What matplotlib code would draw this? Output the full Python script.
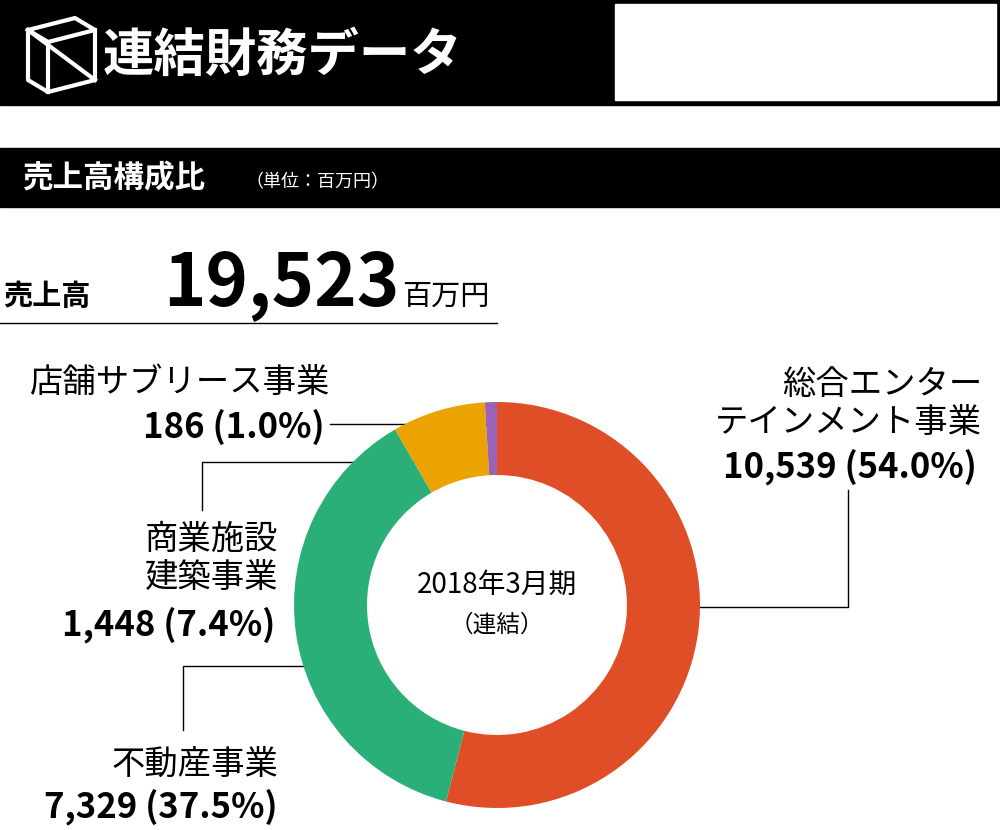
import matplotlib
matplotlib.use("Agg")
import matplotlib.pyplot as plt
from matplotlib.patches import Rectangle

plt.rcParams["font.family"] = "Noto Sans CJK JP"

segments = ["総合エンターテインメント事業", "不動産事業", "商業施設建築事業", "店舗サブリース事業"]
values = [10539, 7329, 1448, 186]
shares = [54.0, 37.5, 7.4, 1.0]
colors = ["#E04E27", "#2BAF78", "#EAA300", "#9B63B8"]
total = "19,523"

fig = plt.figure(figsize=(10, 8.3), dpi=100)
bg = fig.add_axes([0, 0, 1, 1])
bg.set_xlim(0, 1000); bg.set_ylim(830, 0); bg.axis("off")

# header
bg.add_patch(Rectangle((0, 0), 1000, 105, color="black"))
bg.add_patch(Rectangle((615, 4), 381, 96, color="white"))
bg.plot([28, 75, 95, 48, 28], [30, 18, 30, 42, 30], color="white", lw=3)
bg.plot([28, 28, 48, 95, 95], [30, 80, 92, 80, 30], color="white", lw=3)
bg.plot([48, 48], [42, 92], color="white", lw=3)
bg.plot([28, 95], [30, 80], color="white", lw=3)
bg.text(103, 55, "連結財務データ", color="white", fontsize=37, fontweight="bold", va="center")

bg.add_patch(Rectangle((0, 148), 1000, 59, color="black"))
bg.text(22, 178, "売上高構成比", color="white", fontsize=22, fontweight="bold", va="center")
bg.text(245, 182, "（単位：百万円）", color="white", fontsize=13, va="center")

bg.text(3, 296, "売上高", fontsize=21, fontweight="bold", va="center")
bg.text(163, 284, total, fontsize=52, fontweight="bold", va="center")
bg.text(402, 297, "百万円", fontsize=21, va="center")
bg.plot([0, 497], [323, 323], color="black", lw=1)

# donut
ax = fig.add_axes([294 / 1000, (830 - 808) / 830, 406 / 1000, 406 / 830])
ax.pie(values, colors=colors, startangle=90, counterclock=False,
       wedgeprops=dict(width=73 / 203, linewidth=0))
ax.set_xlim(-1, 1); ax.set_ylim(-1, 1)
ax.set_aspect("equal")
ax.text(0, 0.1, "2018年3月期", ha="center", va="center", fontsize=20)
ax.text(0, -0.1, "（連結）", ha="center", va="center", fontsize=17)

def leader(pts):
    xs, ys = zip(*pts)
    bg.plot(xs, ys, color="black", lw=1)
    bg.plot(xs[0], ys[0], "o", color="black", ms=4)

leader([(677, 607), (848, 607), (848, 490)])
leader([(337, 666), (183, 666), (183, 730)])
leader([(452, 462), (202, 462), (202, 510)])
leader([(492, 424), (330, 424)])

bg.text(982, 440, "総合エンター\nテインメント事業", fontsize=24, ha="right", va="bottom", linespacing=1.1)
bg.text(977, 485, f"{values[0]:,} ({shares[0]:.1f}%)", fontsize=25, fontweight="bold", ha="right", va="bottom")
bg.text(278, 595, "商業施設\n建築事業", fontsize=24, ha="right", va="bottom", linespacing=1.1)
bg.text(275, 643, f"{values[2]:,} ({shares[2]:.1f}%)", fontsize=25, fontweight="bold", ha="right", va="bottom")
bg.text(278, 782, "不動産事業", fontsize=24, ha="right", va="bottom")
bg.text(278, 825, f"{values[1]:,} ({shares[1]:.1f}%)", fontsize=25, fontweight="bold", ha="right", va="bottom")
bg.text(330, 400, "店舗サブリース事業", fontsize=24, ha="right", va="bottom")
bg.text(325, 445, f"{values[3]:,} ({shares[3]:.1f}%)", fontsize=25, fontweight="bold", ha="right", va="bottom")

fig.savefig("out.png", dpi=100)
